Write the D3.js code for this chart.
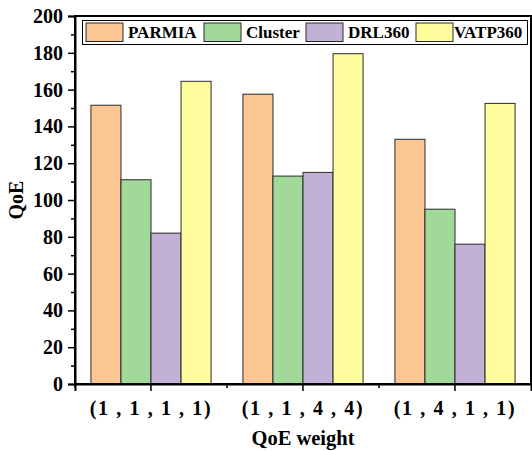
<!DOCTYPE html>
<html>
<head>
<meta charset="utf-8">
<script src="https://cdn.jsdelivr.net/npm/d3@7"></script>
<style>
  body { margin: 0; background: #fff; }
  svg text { font-family: 'Liberation Serif', 'Times New Roman', serif; font-weight: 700; }
</style>
</head>
<body>
<div id="chart"></div>
<script>
const groups = ["(1 , 1 , 1 , 1)", "(1 , 1 , 4 , 4)", "(1 , 4 , 1 , 1)"];
const series = ["PARMIA", "Cluster", "DRL360", "VATP360"];
const colors = ["#FCC694", "#A1D99B", "#C2B0D6", "#FFFC9E"];
const PARMIA = [151.5, 157.5, 133];
const Cluster = [111, 113, 95];
const DRL360 = [82, 115, 76];
const VATP360 = [164.5, 179.5, 152.5];
const yTicks = [0, 20, 40, 60, 80, 100, 120, 140, 160, 180, 200];

const values = [PARMIA, Cluster, DRL360, VATP360];
const data = [];
groups.forEach((g, i) => series.forEach((s, j) => data.push({group: g, key: s, value: values[j][i]})));

const width = 532, height = 451;
const margin = {top: 16, right: 1, bottom: 67, left: 75};

const svg = d3.select("#chart").append("svg")
    .attr("width", width)
    .attr("height", height)
    .attr("font-family", "Liberation Serif")
    .attr("font-weight", "bold");

const x = d3.scaleBand().domain(groups)
    .range([margin.left, width - margin.right]);
const xIn = d3.scaleBand().domain(series)
    .range([0, x.bandwidth()])
    .paddingOuter(0.53).paddingInner(0);
const y = d3.scaleLinear().domain([0, 200])
    .range([height - margin.bottom, margin.top]);

// bars
svg.append("g")
  .selectAll("rect")
  .data(data)
  .join("rect")
    .attr("x", d => x(d.group) + xIn(d.key))
    .attr("y", d => y(d.value))
    .attr("width", xIn.bandwidth())
    .attr("height", d => y(0) - y(d.value))
    .attr("fill", d => colors[series.indexOf(d.key)])
    .attr("stroke", "#2a2a2a")
    .attr("stroke-width", 1);

// frame
svg.append("rect")
    .attr("x", margin.left).attr("y", margin.top)
    .attr("width", width - margin.right - margin.left)
    .attr("height", y(0) - margin.top)
    .attr("fill", "none").attr("stroke", "#000").attr("stroke-width", 2);

// y axis
svg.append("g")
    .attr("transform", `translate(${margin.left},0)`)
    .call(d3.axisLeft(y).tickValues(yTicks).tickSize(7).tickPadding(5))
    .attr("font-family", null)
    .call(g => g.select(".domain").attr("stroke-width", 2))
    .call(g => g.selectAll(".tick line").attr("stroke-width", 1.5))
    .call(g => g.selectAll(".tick text").attr("font-size", 20).attr("fill", "#000"));
svg.append("g")
    .attr("transform", `translate(${margin.left},0)`)
    .call(d3.axisLeft(y).tickValues(d3.range(10, 200, 20)).tickSize(4).tickFormat(""))
    .call(g => g.select(".domain").remove())
    .call(g => g.selectAll(".tick line").attr("stroke-width", 1.5));

// x axis
svg.append("g")
    .attr("transform", `translate(0,${y(0)})`)
    .call(d3.axisBottom(x).tickSize(7).tickPadding(10))
    .attr("font-family", null)
    .call(g => g.select(".domain").attr("stroke-width", 2))
    .call(g => g.selectAll(".tick line").attr("stroke-width", 1.5))
    .call(g => g.selectAll(".tick text")
        .attr("font-size", 20)
        .attr("letter-spacing", "1.6px")
        .attr("fill", "#000"));
svg.append("g")
    .attr("transform", `translate(0,${y(0)})`)
    .selectAll("line")
    .data(groups)
    .join("line")
    .attr("x1", d => x(d)).attr("x2", d => x(d))
    .attr("y1", 0).attr("y2", 4)
    .attr("stroke", "#000").attr("stroke-width", 1.5);

// axis titles
svg.append("text")
    .attr("x", (margin.left + width - margin.right) / 2)
    .attr("y", 445)
    .attr("text-anchor", "middle")
    .attr("font-size", 20.5)
    .text("QoE weight");
svg.append("text")
    .attr("transform", `translate(23,${(margin.top + y(0)) / 2}) rotate(-90)`)
    .attr("text-anchor", "middle")
    .attr("font-size", 20)
    .text("QoE");

// legend
const legend = svg.append("g");
legend.append("rect")
    .attr("x", 82.5).attr("y", 20.5)
    .attr("width", 445).attr("height", 24)
    .attr("fill", "#fff").attr("stroke", "#000").attr("stroke-width", 1);
const legX = [86, 204, 306, 416];
const item = legend.selectAll("g.item")
    .data(series)
    .join("g")
    .attr("class", "item")
    .attr("transform", (d, i) => `translate(${legX[i]},23)`);
item.append("rect")
    .attr("width", 37).attr("height", 18.5)
    .attr("fill", (d, i) => colors[i])
    .attr("stroke", "#2a2a2a").attr("stroke-width", 1);
item.append("text")
    .attr("x", (d, i) => i === 3 ? 38 : 42)
    .attr("y", 15)
    .attr("font-size", 17)
    .text(d => d);
</script>
</body>
</html>
